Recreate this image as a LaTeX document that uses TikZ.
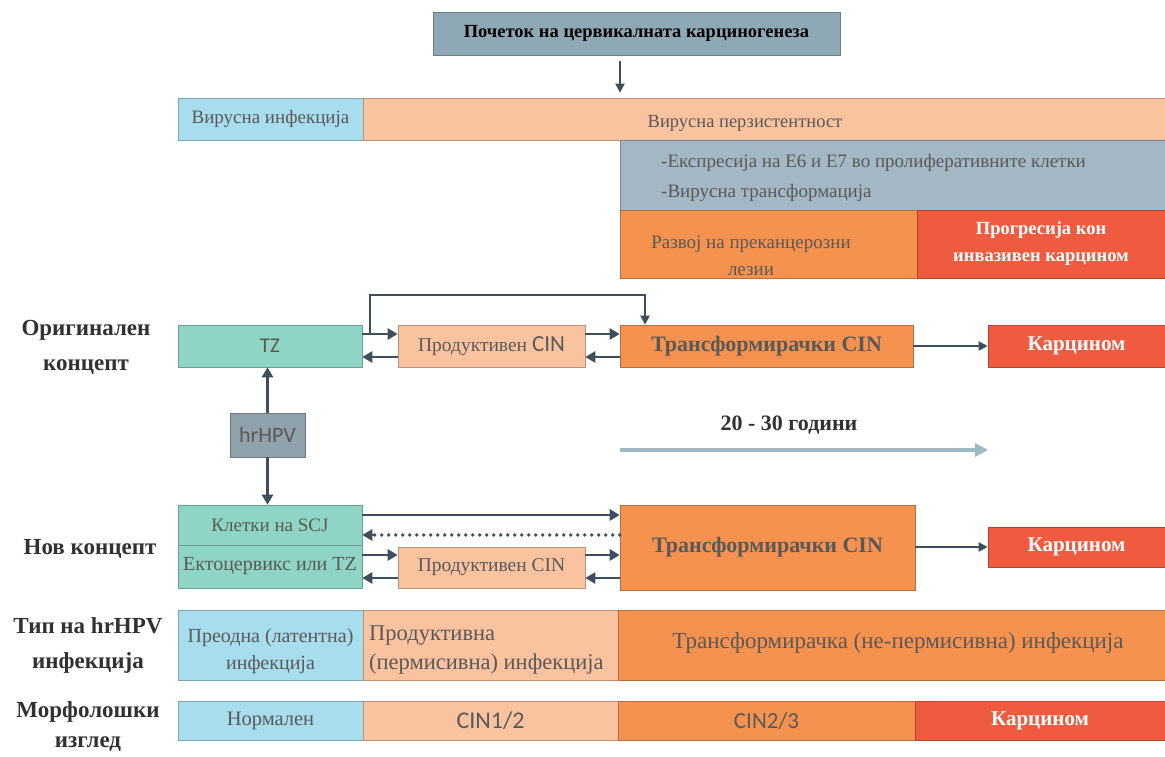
\documentclass[tikz,border=0pt]{standalone}
\usepackage{fontspec}
\setmainfont{Liberation Serif}
\newfontfamily\humsans{Carlito}
\usetikzlibrary{arrows.meta,calc}
\definecolor{titlebg}{HTML}{8FA8B5}
\definecolor{lblue}{HTML}{A8DDED}
\definecolor{lsalmon}{HTML}{F9C3A0}
\definecolor{greyblue}{HTML}{A3B8C4}
\definecolor{orng}{HTML}{F5924F}
\definecolor{redbox}{HTML}{EF5B3F}
\definecolor{teal}{HTML}{8ED5C6}
\definecolor{arrowdark}{HTML}{3D4F5C}
\definecolor{timeline}{HTML}{9FB9C4}
\definecolor{txtgrey}{HTML}{595959}
\definecolor{labeldark}{HTML}{333030}
\begin{document}
\begin{tikzpicture}[x=1pt,y=-1pt,
  bar/.style={draw=#1!75!black, fill=#1, line width=0.6pt, inner sep=1pt,
    text=txtgrey, font=\fontsize{19}{27}\selectfont, align=center},
  plain/.style={text=txtgrey, inner sep=1pt},
  sidelabel/.style={font=\fontsize{23}{35}\selectfont\bfseries, text=labeldark, align=center},
  arr/.style={draw=arrowdark, line width=2.6pt,
    -{Triangle[length=10pt,width=11pt]}},
  thinarr/.style={draw=arrowdark, line width=2pt,
    -{Triangle[length=9pt,width=9pt]}},
  whitetxt/.style={text=white, font=\fontsize{18.5}{27}\selectfont\bfseries},
  cinbig/.style={font=\fontsize{22}{26}\selectfont\bfseries},
  carcfont/.style={text=white, font=\fontsize{21}{24}\selectfont\bfseries},
  sansfont/.style={font=\humsans\fontsize{#1}{#1}\selectfont}
]
\useasboundingbox (0,0) rectangle (1165,757);

% ---- header and infection phases ----
\node[bar=titlebg, minimum width=407, minimum height=43, text=black,
      font=\fontsize{18.5}{22}\selectfont\bfseries] (title) at (636.5,33.5)
      {Почеток на цервикалната карциногенеза};
\node[bar=lblue, minimum width=185, minimum height=42] (vinf) at (270.5,119)
      {Вирусна инфекција};
\node[bar=lsalmon, minimum width=802, minimum height=42] (vpers) at (764,119) {};
\node[plain, font=\fontsize{18.5}{22}\selectfont] (vperstxt) at (745,123)
      {Вирусна перзистентност};
\node[bar=greyblue, minimum width=545, minimum height=70] (expr) at (892.5,175) {};
\node[plain, font=\fontsize{19}{30}\selectfont, align=left, anchor=west]
      (exprtxt) at (660,178)
      {-Експресија на Е6 и Е7 во пролиферативните клетки\\-Вирусна трансформација};
\node[bar=orng, minimum width=297, minimum height=68] (devel) at (768.5,244) {};
\node[plain, font=\fontsize{19}{27}\selectfont, align=center] (develtxt) at (751,256)
      {Развој на преканцерозни\\лезии};
\node[bar=redbox, minimum width=248, minimum height=68, whitetxt] (progr) at (1041,244)
      {Прогресија кон\\инвазивен карцином};

\draw[thinarr, shorten <=6pt, shorten >=5pt]
      (title.south -| 620,0) -- (vpers.north -| 620,0);

% ---- original concept ----
\node[sidelabel] (origlbl) at (86,347) {Оригинален\\концепт};
\node[bar=teal, minimum width=184, minimum height=42, sansfont=21] (tz) at (270,346) {TZ};
\node[bar=lsalmon, minimum width=187, minimum height=42, font=\fontsize{19.5}{22}\selectfont]
      (prod1) at (491.5,346)
      {Продуктивен {\humsans\fontsize{23}{22}\selectfont CIN}};
\node[bar=orng, minimum width=293, minimum height=42, cinbig] (trans1) at (766.5,346)
      {Трансформирачки CIN};
\node[bar=redbox, minimum width=177, minimum height=42, carcfont] (carc1) at (1076.5,346)
      {Карцином};

\draw[arr] (tz.east |- 0,334) -- (prod1.west |- 0,334);
\draw[arr] (prod1.west |- 0,357) -- (tz.east |- 0,357);
\draw[arr] (prod1.east |- 0,334) -- (trans1.west |- 0,334);
\draw[arr] (trans1.west |- 0,357) -- (prod1.east |- 0,357);
\draw[thinarr] (370,334) |- (645,295) -- (trans1.north -| 645,0);
\draw[thinarr] (trans1.east) -- (carc1.west);

% ---- hrHPV link ----
\node[bar=greyblue!88!black, minimum width=75, minimum height=44, sansfont=22]
      (hpv) at (267.5,435) {hrHPV};
\draw[arr] (hpv.north) -- (tz.south -| hpv.north);

% ---- time span ----
\node[font=\fontsize{22}{24}\selectfont\bfseries, text=labeldark] (years) at (789,425)
      {20 - 30 години};
\coordinate (tl0) at (620,450);
\coordinate (tl1) at (988,450);
\draw[draw=timeline, line width=4pt, -{Triangle[length=13pt,width=13pt]}] (tl0) -- (tl1);

% ---- new concept ----
\node[sidelabel] (newlbl) at (90,549) {Нов концепт};
\node[bar=teal, minimum width=184, minimum height=40] (scj) at (270,525)
      {Клетки на SCJ};
\node[bar=teal, minimum width=184, minimum height=43, font=\fontsize{20}{22}\selectfont]
      (ecto) at (270,566.5) {Ектоцервикс или TZ};
\draw[arr] (hpv.south) -- (scj.north -| hpv.south);
\node[bar=lsalmon, minimum width=187, minimum height=41, font=\fontsize{19.5}{22}\selectfont]
      (prod2) at (491.5,567.5) {Продуктивен CIN};
\node[bar=orng, minimum width=295, minimum height=85, cinbig] (trans2) at (767.5,547.5)
      {Трансформирачки CIN};
\node[bar=redbox, minimum width=177, minimum height=40, carcfont] (carc2) at (1076.5,547)
      {Карцином};

\draw[arr] (scj.east |- 0,515) -- (trans2.west |- 0,515);
\draw[draw=arrowdark, line width=3.6pt, line cap=round, dash pattern=on 0pt off 7pt]
      (trans2.west |- 0,535) -- ([xshift=12pt]scj.east |- 0,535);
\draw[arr] ([xshift=12pt]scj.east |- 0,535) -- (scj.east |- 0,535);
\draw[arr] (ecto.east |- 0,555) -- (prod2.west |- 0,555);
\draw[arr] (prod2.west |- 0,578) -- (ecto.east |- 0,578);
\draw[arr] (prod2.east |- 0,555) -- (trans2.west |- 0,555);
\draw[arr] (trans2.west |- 0,578) -- (prod2.east |- 0,578);
\draw[thinarr] (trans2.east |- carc2.west) -- (carc2.west);

% ---- infection type ----
\node[sidelabel] (typelbl) at (88,645) {Тип на hrHPV\\инфекција};
\node[bar=lblue, minimum width=185, minimum height=70] (typ1) at (270.5,645) {};
\node[plain, font=\fontsize{20}{27}\selectfont, align=center] (typ1txt) at (270.5,651)
      {Преодна (латентна)\\инфекција};
\node[bar=lsalmon, minimum width=255, minimum height=70] (typ2) at (490.5,645) {};
\node[plain, font=\fontsize{22.5}{29}\selectfont, align=left, anchor=west]
      (typ2txt) at (368,650) {Продуктивна\\(пермисивна) инфекција};
\node[bar=orng, minimum width=547, minimum height=70] (typ3) at (891.5,645) {};
\node[plain, font=\fontsize{23}{26}\selectfont] (typ3txt) at (898,643)
      {Трансформирачка (не-пермисивна) инфекција};

% ---- morphology ----
\node[sidelabel, font=\fontsize{23}{30}\selectfont\bfseries] (morphlbl) at (88,727)
      {Морфолошки\\изглед};
\node[bar=lblue, minimum width=185, minimum height=39, font=\fontsize{20.5}{22}\selectfont]
      (mor1) at (270.5,720.5) {Нормален};
\node[bar=lsalmon, minimum width=255, minimum height=39, sansfont=24] (mor2) at (490.5,720.5)
      {CIN1/2};
\node[bar=orng, minimum width=297, minimum height=39, sansfont=23] (mor3) at (766.5,720.5)
      {CIN2/3};
\node[bar=redbox, minimum width=250, minimum height=39, carcfont] (mor4) at (1040,720.5)
      {Карцином};
\end{tikzpicture}
\end{document}
